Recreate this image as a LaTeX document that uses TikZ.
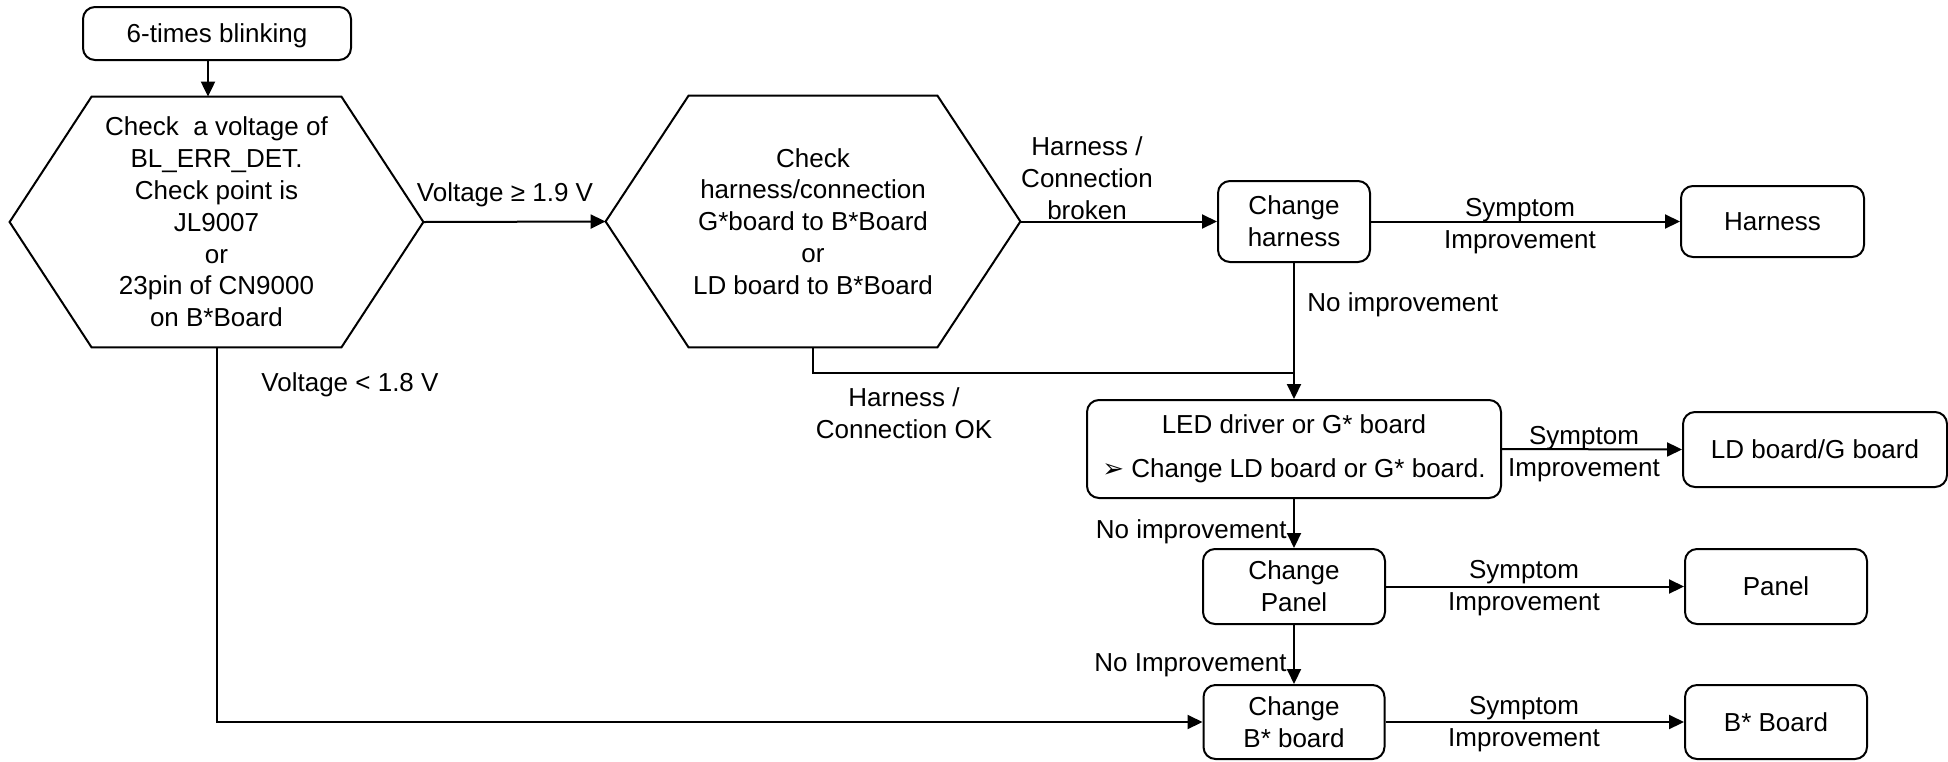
\documentclass[tikz,border=0pt]{standalone}
\usepackage{fontspec}
\setmainfont{Liberation Sans}
\newfontfamily\djv{DejaVu Sans}
\usetikzlibrary{arrows.meta}
\begin{document}
\begin{tikzpicture}[x=0.5pt,y=-0.5pt,
  every node/.style={font=\fontsize{13}{15.9}\selectfont, inner sep=0pt},
  rbox/.style={draw, rounded corners=6pt, align=center, line width=1pt},
  hexbox/.style={align=center},
  lbl/.style={align=center, yshift=-1pt},
  conn/.style={line width=1pt},
  arr/.style={conn, -{Triangle[length=7.5pt,width=7pt]}},
]
\useasboundingbox (0,0) rectangle (1948,761);

% boxes
\node[rbox, minimum width=134pt, minimum height=26.5pt, text depth=0pt] (top) at (217,33.5) {6-times blinking};
\node[rbox, minimum width=76pt, minimum height=40.5pt] (ch) at (1294,221.5) {Change\\harness};
\node[rbox, minimum width=91.5pt, minimum height=35.5pt] (hn) at (1772.5,221.5) {Harness};
\node[rbox, minimum width=207pt, minimum height=49pt] (led) at (1294,449) {LED driver or G* board\\[6pt]{\djv ➢} Change LD board or G* board.};
\node[rbox, minimum width=132pt, minimum height=37.5pt] (ld) at (1815,449.5) {LD board/G board};
\node[rbox, minimum width=91pt, minimum height=37.5pt] (cp) at (1294,586.5) {Change\\Panel};
\node[rbox, minimum width=91pt, minimum height=37.5pt] (pn) at (1776,586.5) {Panel};
\node[rbox, minimum width=90.5pt, minimum height=37pt] (cb) at (1294,722) {Change\\B* board};
\node[rbox, minimum width=91pt, minimum height=37pt] (bb) at (1776,722) {B* Board};

% hexagons
\node[hexbox, minimum width=206.5pt, minimum height=125pt] (h1) at (216.5,222)
  {Check\ \ a voltage of\\BL\_ERR\_DET.\\Check point is\\JL9007\\or\\23pin of CN9000\\on B*Board};
\draw[conn] (h1.west) -- ([xshift=41pt]h1.north west) -- ([xshift=-41pt]h1.north east)
  -- (h1.east) -- ([xshift=-41pt]h1.south east) -- ([xshift=41pt]h1.south west) -- cycle;
\node[hexbox, minimum width=207pt, minimum height=125.5pt] (h2) at (813,221.5)
  {Check\\harness/connection\\G*board to B*Board\\or\\LD board to B*Board};
\draw[conn] (h2.west) -- ([xshift=41.5pt]h2.north west) -- ([xshift=-41.5pt]h2.north east)
  -- (h2.east) -- ([xshift=-41.5pt]h2.south east) -- ([xshift=41.5pt]h2.south west) -- cycle;

% labels
\node[lbl] (l1) at (505,193) {Voltage ≥ 1.9 V};
\node[lbl] (l2) at (1087,176) {Harness /\\Connection\\broken};
\node[lbl] (l3) at (1520,224) {Symptom\\Improvement};
\node[lbl, anchor=west] (l4) at (1307,303) {No improvement};
\node[lbl] (l5) at (350,383) {Voltage < 1.8 V};
\node[lbl] (l6) at (904,411) {Harness /\\Connection OK};
\node[lbl] (l7) at (1584,452.5) {Symptom\\Improvement};
\node[lbl, anchor=east] (l8) at (1287,530) {No improvement};
\node[lbl] (l9) at (1524,586) {Symptom\\Improvement};
\node[lbl, anchor=east] (l10) at (1287,663) {No Improvement};
\node[lbl] (l11) at (1524,722.5) {Symptom\\Improvement};

% connectors
\draw[arr] ([xshift=-4.5pt]top.south) -- ([xshift=-4.5pt]top.south |- h1.north);
\draw[arr] (h1.east) -- (h2.west);
\draw[arr] (h2.east) -- (ch.west);
\draw[arr] (ch.east) -- (hn.west);
\draw[arr] (ch.south) -- (led.north);
\coordinate (j) at (1294,373);
\draw[conn] (h2.south) |- (j);
\draw[arr] (led.east) -- (ld.west);
\draw[arr] (led.south) -- (cp.north);
\draw[arr] (cp.east) -- (pn.west);
\draw[arr] (cp.south) -- (cb.north);
\draw[arr] (cb.east) -- (bb.west);
\draw[arr] (h1.south) |- (cb.west);
\end{tikzpicture}
\end{document}
